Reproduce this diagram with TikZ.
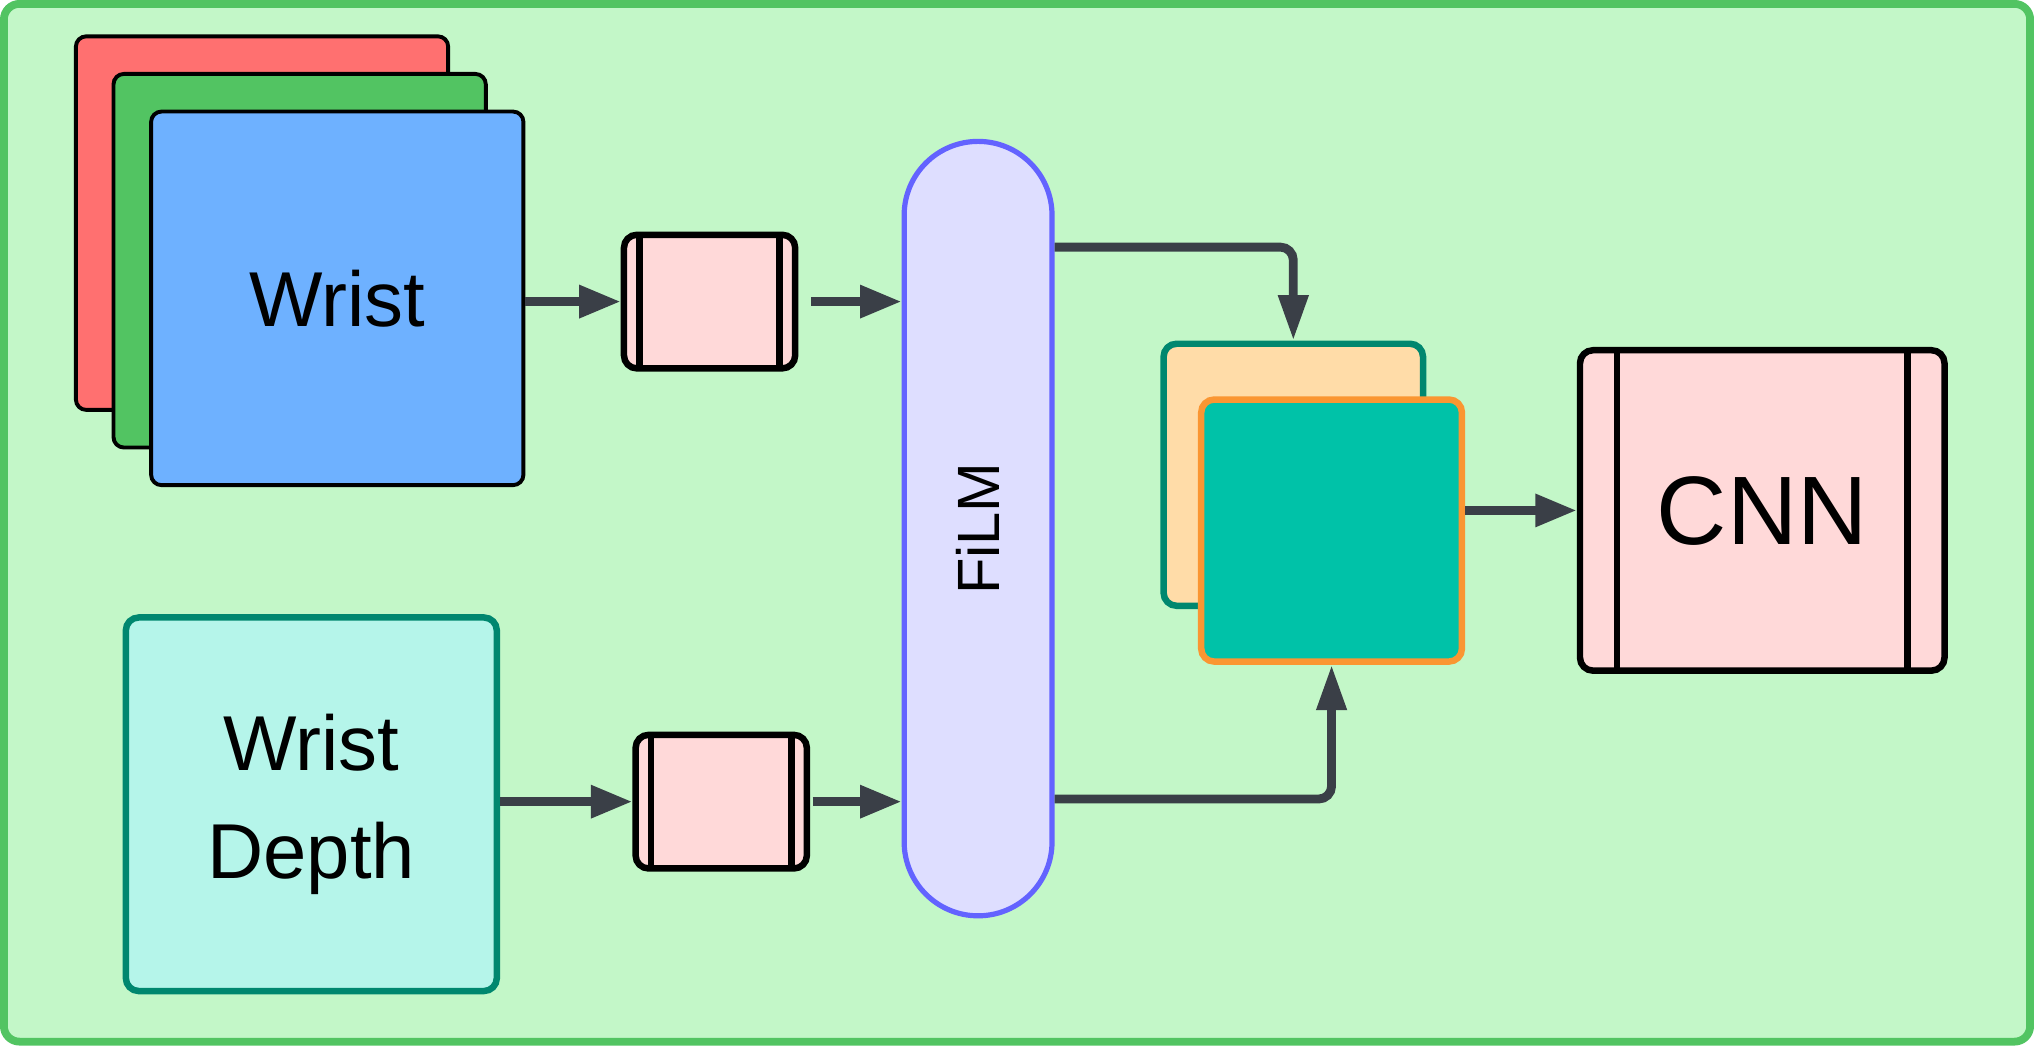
\documentclass[tikz,border=0pt]{standalone}
\usepackage{fontspec}
\setmainfont{Liberation Sans}
\usetikzlibrary{arrows.meta}
\definecolor{bgfill}{HTML}{C3F7C8}
\definecolor{framec}{HTML}{52C462}
\definecolor{redc}{HTML}{FF7070}
\definecolor{greenc}{HTML}{52C462}
\definecolor{bluec}{HTML}{6EB1FF}
\definecolor{depthfill}{HTML}{B5F5EA}
\definecolor{tealline}{HTML}{00876F}
\definecolor{encfill}{HTML}{FFD9D9}
\definecolor{arrowc}{HTML}{3A3F47}
\definecolor{filmfill}{HTML}{DEDEFF}
\definecolor{filmline}{HTML}{6363FF}
\definecolor{beigec}{HTML}{FFDCA8}
\definecolor{tealfill}{HTML}{00C2A8}
\definecolor{orangec}{HTML}{FA9632}
\tikzset{
  imgbox/.style={draw=black, line width=1.5pt, rounded corners=4pt,
    minimum width=143.5pt, minimum height=144pt, inner sep=0pt},
  encbox/.style={draw=black, fill=encfill, line width=2.5pt, rounded corners=5pt,
    minimum width=66pt, minimum height=51.5pt, inner sep=0pt},
  encline/.style={draw=black, line width=2.5pt, shorten <=1.25pt, shorten >=1.25pt},
  arr/.style={draw=arrowc, line width=3.4pt, -{Triangle[length=16pt,width=12pt]}},
  bigtext/.style={font=\fontsize{30}{41.5}\selectfont, align=center},
}
\begin{document}
\begin{tikzpicture}[x=0.5pt, y=-0.5pt]
\useasboundingbox (0,0) rectangle (1568,806.3);
% frame
\node (frame) [draw=framec, fill=bgfill, line width=3pt, rounded corners=6pt,
  minimum width=781pt, minimum height=400pt, inner sep=0pt] at (784,403) {};
% image stack
\node (red) [imgbox, fill=redc] at (202,172) {};
\node (green) [imgbox, fill=greenc] at (231,201) {};
\node (blue) [imgbox, fill=bluec] at (260,230) {};
\node (wrist) [bigtext] at (260,230) {Wrist};
% depth
\node (depth) [draw=tealline, fill=depthfill, line width=2.5pt, rounded corners=5pt,
  minimum width=143pt, minimum height=144pt, inner sep=0pt, bigtext] at (240,620) {Wrist\\Depth};
% encoders
\node (s1) [encbox] at (547,232.5) {};
\draw[encline] ([xshift=-27pt]s1.north) -- ([xshift=-27pt]s1.south);
\draw[encline] ([xshift=27pt]s1.north) -- ([xshift=27pt]s1.south);
\node (s2) [encbox] at (556,618) {};
\draw[encline] ([xshift=-27pt]s2.north) -- ([xshift=-27pt]s2.south);
\draw[encline] ([xshift=27pt]s2.north) -- ([xshift=27pt]s2.south);
% FiLM
\node (film) [draw=filmline, fill=filmfill, line width=2pt, rounded corners=28.5pt,
  minimum width=57pt, minimum height=298.5pt, inner sep=0pt] at (754,407.5) {};
\node (filmtext) [rotate=90, font=\fontsize{23}{27}\selectfont] at (754,407.5) {FiLM};
% feature maps
\node (beige) [draw=tealline, fill=beigec, line width=2.5pt, rounded corners=5pt,
  minimum width=100pt, minimum height=101pt, inner sep=0pt] at (997,366) {};
\node (teal) [draw=orangec, fill=tealfill, line width=2.5pt, rounded corners=5pt,
  minimum width=100.5pt, minimum height=101pt, inner sep=0pt] at (1026.5,409) {};
% CNN
\node (cnn) [draw=black, fill=encfill, line width=2.5pt, rounded corners=5pt,
  minimum width=140.5pt, minimum height=123.5pt, inner sep=0pt] at (1358.5,393.5) {};
\draw[encline] ([xshift=-56pt]cnn.north) -- ([xshift=-56pt]cnn.south);
\draw[encline] ([xshift=56pt]cnn.north) -- ([xshift=56pt]cnn.south);
\node (cnntext) [font=\fontsize{37.5}{40}\selectfont] at (1358.5,394) {CNN};
% connectors
\coordinate (ftop) at (813,190.5);
\coordinate (fbot) at (813,616);
\draw[arr] (blue.east |- s1) -- (s1.west);
\draw[arr] ([xshift=5pt]s1.east) -- (film.west |- s1);
\draw[arr] (depth.east |- s2) -- (s2.west);
\draw[arr] ([xshift=1pt]s2.east) -- (film.west |- s2);
\draw[arr, -{Triangle[length=17.5pt,width=11pt]}, rounded corners=5pt] (ftop) -| (beige.north);
\draw[arr, -{Triangle[length=17.5pt,width=11pt]}, rounded corners=5pt] (fbot) -| (teal.south);
\draw[arr] (teal.east |- cnn) -- (cnn.west);
\end{tikzpicture}
\end{document}
